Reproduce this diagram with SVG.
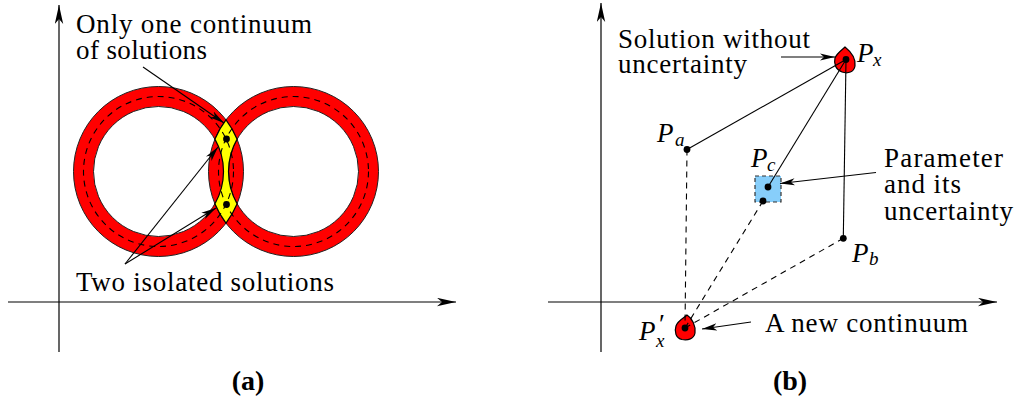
<svg xmlns="http://www.w3.org/2000/svg" width="1021" height="403" viewBox="0 0 1021 403">
<style>
.t{font-family:"Liberation Serif",serif;font-size:27px;fill:#000;}
.m{font-family:"Liberation Serif",serif;font-size:27px;font-style:italic;fill:#000;}
.s{font-family:"Liberation Serif",serif;font-size:19px;font-style:italic;fill:#000;}
.cap{font-family:"Liberation Serif",serif;font-size:28px;font-weight:bold;fill:#000;}
.axis{stroke:#000;stroke-width:1.2;fill:none;}
.ln{stroke:#000;stroke-width:1.1;fill:none;}
.dash{stroke:#000;stroke-width:1.1;fill:none;stroke-dasharray:6 5;}
.ring{fill:#ff0000;fill-rule:evenodd;stroke:#222;stroke-width:1;}
.mid{fill:none;stroke:#000;stroke-width:1.1;stroke-dasharray:6 5;}
.blob{fill:#ff0000;stroke:#000;stroke-width:1.2;}
</style>
<defs>
<marker id="axh" viewBox="-19 -4.5 20 9" refX="0" refY="0" markerWidth="20" markerHeight="9" orient="auto" markerUnits="userSpaceOnUse"><path d="M0,0 L-19,-4.2 L-14,0 L-19,4.2 Z" fill="#000"/></marker>
<marker id="ah" viewBox="-15 -4 16 8" refX="0" refY="0" markerWidth="16" markerHeight="8" orient="auto" markerUnits="userSpaceOnUse"><path d="M0,0 L-15,-3.6 L-11,0 L-15,3.6 Z" fill="#000"/></marker>
<circle id="dot" r="3.4" fill="#000"/>
</defs>

<g id="axes-a">
<line class="axis" x1="59" y1="352" x2="59" y2="5" marker-end="url(#axh)"/>
<line class="axis" x1="8" y1="302" x2="456" y2="302" marker-end="url(#axh)"/>
</g>
<g id="axes-b">
<line class="axis" x1="601" y1="352" x2="601" y2="3" marker-end="url(#axh)"/>
<line class="axis" x1="548" y1="302" x2="997" y2="302" marker-end="url(#axh)"/>
</g>

<g id="ring-left">
<path class="ring" d="M73.5,171.5 a85,85 0 1 0 170,0 a85,85 0 1 0 -170,0 Z M93.5,171.5 a65,65 0 1 0 130,0 a65,65 0 1 0 -130,0 Z"/>
</g>
<g id="ring-right">
<path class="ring" d="M208.5,171.5 a85,85 0 1 0 170,0 a85,85 0 1 0 -170,0 Z M228.5,171.5 a65,65 0 1 0 130,0 a65,65 0 1 0 -130,0 Z"/>
</g>
<g id="intersection">
<path d="M226,119.84 A85,85 0 0 1 237.11,139.17 A65,65 0 0 0 237.11,203.83 A85,85 0 0 1 226,223.16 A85,85 0 0 1 214.89,203.83 A65,65 0 0 0 214.89,139.17 A85,85 0 0 1 226,119.84 Z" fill="#ffff00" stroke="#000" stroke-width="1.2"/>
</g>
<g id="midlines">
<circle class="mid" cx="158.5" cy="171.5" r="75"/>
<circle class="mid" cx="293.5" cy="171.5" r="75"/>
</g>
<g id="solutions-a">
<use href="#dot" x="226.5" y="139"/>
<use href="#dot" x="226.5" y="204.5"/>
</g>

<g id="label-continuum">
<text class="t" x="76" y="33" textLength="236" lengthAdjust="spacing">Only one continuum</text>
<text class="t" x="76" y="59" textLength="131" lengthAdjust="spacing">of solutions</text>
</g>
<g id="label-isolated">
<text class="t" x="76" y="291" textLength="258" lengthAdjust="spacing">Two isolated solutions</text>
</g>

<g id="Px">
<path class="blob" d="M845,47 C850,51 856,58 855,66 C854,72 848,74 842,72 C836,70 833.5,64 835,58 C837,53 842,50 845,47 Z"/>
<use href="#dot" x="846" y="59.5"/>
<text class="m" x="857" y="62">P</text>
<text class="s" x="873" y="66">x</text>
</g>
<g id="Pa">
<use href="#dot" x="687" y="149.5"/>
<text class="m" x="657" y="142">P</text>
<text class="s" x="675" y="146">a</text>
</g>
<g id="Pc">
<rect x="755" y="176" width="26" height="26" fill="#87cefa" stroke="#333" stroke-width="1.2" stroke-dasharray="4 3"/>
<use href="#dot" x="768" y="187"/>
<use href="#dot" x="763" y="201"/>
<text class="m" x="751" y="167">P</text>
<text class="s" x="767" y="171">c</text>
</g>
<g id="Pb">
<use href="#dot" x="843.3" y="238.3"/>
<text class="m" x="852" y="262">P</text>
<text class="s" x="869" y="265">b</text>
</g>
<g id="Px-prime">
<path class="blob" d="M687,315 C692,318 696,326 695,333 C694,339 688,340.5 682,339.5 C676,338 674,332 676,326 C678,320 684,318 687,315 Z"/>
<use href="#dot" x="685" y="328"/>
<text class="m" x="639" y="340">P</text>
<text class="t" x="659" y="333" font-size="20" font-style="normal">′</text>
<text class="s" x="656" y="347">x</text>
</g>

<g id="label-solution">
<text class="t" x="618" y="48" textLength="192" lengthAdjust="spacing">Solution without</text>
<text class="t" x="618" y="73" textLength="129" lengthAdjust="spacing">uncertainty</text>
</g>
<g id="label-parameter">
<text class="t" x="884" y="167" textLength="119" lengthAdjust="spacing">Parameter</text>
<text class="t" x="884" y="193" textLength="77" lengthAdjust="spacing">and its</text>
<text class="t" x="884" y="220" textLength="129" lengthAdjust="spacing">uncertainty</text>
</g>
<g id="label-new">
<text class="t" x="765" y="332" textLength="203" lengthAdjust="spacing">A new continuum</text>
</g>

<g id="connectors">
<line class="ln" x1="143" y1="67" x2="224" y2="123" marker-end="url(#ah)"/>
<line class="ln" x1="125" y1="264" x2="218" y2="147" marker-end="url(#ah)"/>
<line class="ln" x1="125" y1="264" x2="216" y2="208" marker-end="url(#ah)"/>
<line class="ln" x1="846" y1="59.5" x2="687" y2="149.5"/>
<line class="ln" x1="846" y1="59.5" x2="768" y2="187"/>
<line class="ln" x1="846" y1="59.5" x2="843.3" y2="238.3"/>
<line class="dash" x1="687" y1="149.5" x2="685" y2="328"/>
<line class="dash" x1="763" y1="201" x2="685" y2="328"/>
<line class="dash" x1="843.3" y1="238.3" x2="685" y2="328"/>
<line class="ln" x1="781" y1="57" x2="835" y2="57" marker-end="url(#ah)"/>
<line class="ln" x1="876" y1="172.5" x2="780" y2="183.5" marker-end="url(#ah)"/>
<line class="ln" x1="751" y1="322" x2="702" y2="329" marker-end="url(#ah)"/>
</g>

<g id="captions">
<text class="cap" x="248" y="390" text-anchor="middle">(a)</text>
<text class="cap" x="790" y="390" text-anchor="middle">(b)</text>
</g>
</svg>
